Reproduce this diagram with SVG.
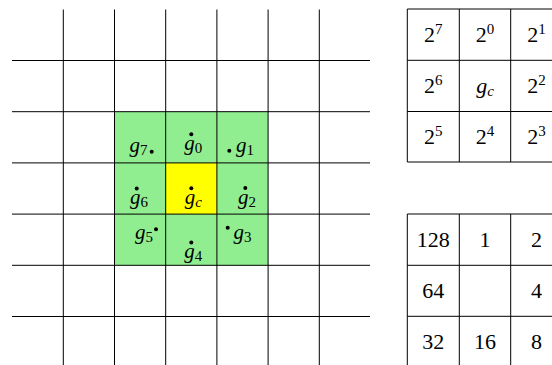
<svg xmlns="http://www.w3.org/2000/svg" width="552" height="365" viewBox="0 0 552 365">
<style>
.ln{stroke:#000;stroke-width:1;fill:none}
.t{font-family:"Liberation Serif","DejaVu Serif",serif;font-size:22px;fill:#000}
.m{font-family:"Liberation Serif","DejaVu Serif",serif;font-size:21px;fill:#000}
.i{font-style:italic}
.s{font-size:15px;font-style:normal}
.si{font-size:15px;font-style:italic}
.c{text-anchor:middle}
.e{text-anchor:end}
.dot{fill:#000}
</style>
<rect width="552" height="365" fill="#fff"/>
<g id="cells">
<rect x="114.5" y="111.7" width="153.6" height="153.6" fill="#90EE90"/>
<rect x="165.7" y="162.9" width="51.2" height="51.2" fill="#FFFF00"/>
</g>
<g id="grid" class="ln">
<path d="M63.3 9.5V365M114.5 9.5V365M165.7 9.5V365M216.9 9.5V365M268.1 9.5V365M319.3 9.5V365"/>
<path d="M12 60.5H370M12 111.7H370M12 162.9H370M12 214.1H370M12 265.3H370M12 316.5H370"/>
</g>
<g id="gc"><circle class="dot" cx="191.3" cy="188.3" r="2"/><text class="m c" x="193.3" y="204"><tspan class="i">g</tspan><tspan class="si" dy="3">c</tspan></text></g>
<g id="g0"><circle class="dot" cx="191.3" cy="134.3" r="2"/><text class="m c" x="193.3" y="150"><tspan class="i">g</tspan><tspan class="s" dy="3">0</tspan></text></g>
<g id="g1"><circle class="dot" cx="229.3" cy="150.7" r="2"/><text class="m" x="236" y="152"><tspan class="i">g</tspan><tspan class="s" dy="3">1</tspan></text></g>
<g id="g2"><circle class="dot" cx="245.3" cy="188" r="2"/><text class="m c" x="247" y="204"><tspan class="i">g</tspan><tspan class="s" dy="3">2</tspan></text></g>
<g id="g3"><circle class="dot" cx="227.7" cy="227.7" r="2"/><text class="m" x="233.5" y="239"><tspan class="i">g</tspan><tspan class="s" dy="3">3</tspan></text></g>
<g id="g4"><circle class="dot" cx="191.3" cy="242.5" r="2"/><text class="m c" x="193.3" y="258"><tspan class="i">g</tspan><tspan class="s" dy="3">4</tspan></text></g>
<g id="g5"><circle class="dot" cx="156" cy="229.3" r="2"/><text class="m e" x="153" y="239"><tspan class="i">g</tspan><tspan class="s" dy="3">5</tspan></text></g>
<g id="g6"><circle class="dot" cx="136.7" cy="188.5" r="2"/><text class="m c" x="139" y="204"><tspan class="i">g</tspan><tspan class="s" dy="3">6</tspan></text></g>
<g id="g7"><circle class="dot" cx="151.7" cy="151.7" r="2"/><text class="m e" x="147.5" y="152"><tspan class="i">g</tspan><tspan class="s" dy="3">7</tspan></text></g>
<g id="table-weights">
<path class="ln" d="M407.3 9H552M407.3 60.3H552M407.3 111.5H552M407.3 162H552M407.3 9V162M459.3 9V162M510.7 9V162"/>
<text class="t c" x="433.3" y="42">2<tspan class="s" dy="-8.5">7</tspan></text>
<text class="t c" x="485" y="42">2<tspan class="s" dy="-8.5">0</tspan></text>
<text class="t c" x="536.5" y="42">2<tspan class="s" dy="-8.5">1</tspan></text>
<text class="t c" x="433.3" y="93">2<tspan class="s" dy="-8.5">6</tspan></text>
<text class="t c" x="485" y="93"><tspan class="i">g</tspan><tspan class="si" dy="3">c</tspan></text>
<text class="t c" x="536.5" y="93">2<tspan class="s" dy="-8.5">2</tspan></text>
<text class="t c" x="433.3" y="144">2<tspan class="s" dy="-8.5">5</tspan></text>
<text class="t c" x="485" y="144">2<tspan class="s" dy="-8.5">4</tspan></text>
<text class="t c" x="536.5" y="144">2<tspan class="s" dy="-8.5">3</tspan></text>
</g>
<g id="table-values">
<path class="ln" d="M407.3 214H552M407.3 265.3H552M407.3 316.3H552M407.3 214V365M459.3 214V365M510.7 214V365"/>
<text class="t c" x="433.3" y="247">128</text>
<text class="t c" x="485" y="247">1</text>
<text class="t c" x="536.5" y="247">2</text>
<text class="t c" x="433.3" y="298">64</text>
<text class="t c" x="536.5" y="298">4</text>
<text class="t c" x="433.3" y="349">32</text>
<text class="t c" x="485" y="349">16</text>
<text class="t c" x="536.5" y="349">8</text>
</g>
</svg>
